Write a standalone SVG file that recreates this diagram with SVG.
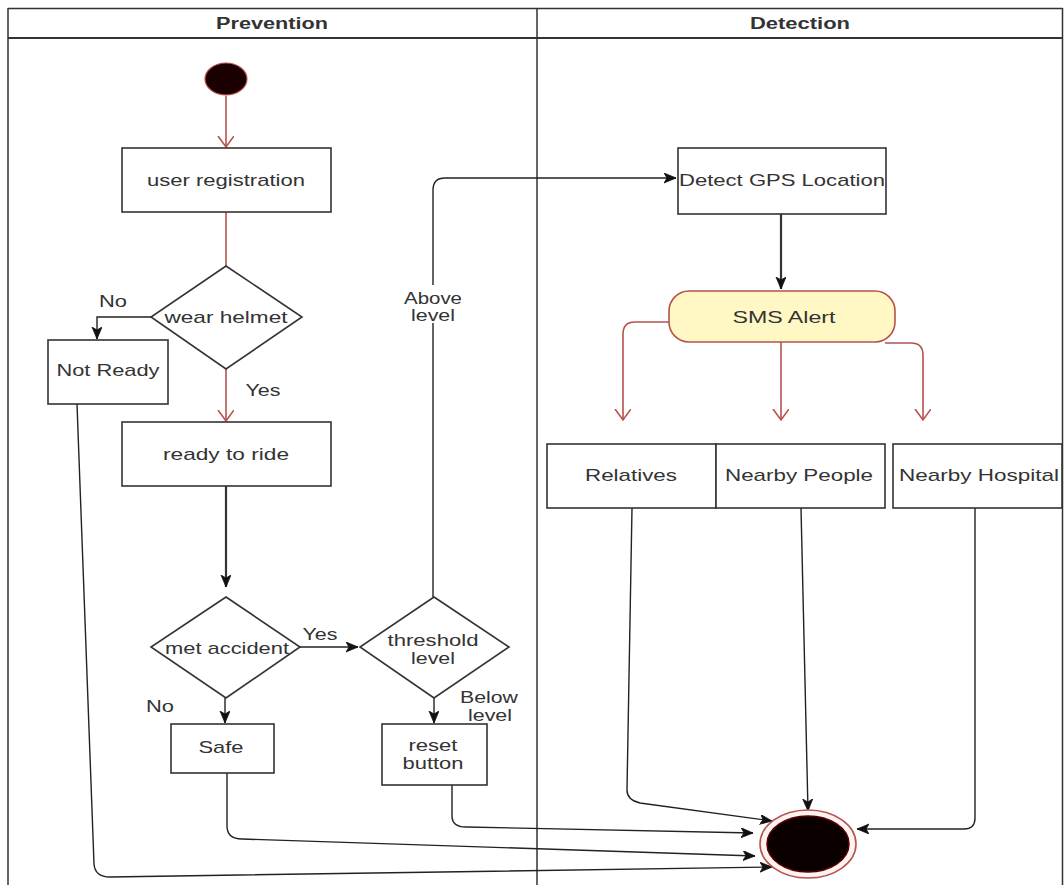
<svg xmlns="http://www.w3.org/2000/svg" width="1064" height="885" viewBox="0 0 1064 885">
<style>
  text { font-family: "Liberation Sans", Arial, sans-serif; font-size: 17px; fill: #333; text-anchor: middle; }
  .hdr { font-weight: bold; font-size: 16px; }
  .box { fill: #fff; stroke: #333; stroke-width: 1.6; }
  .frame { fill: none; stroke: #333; stroke-width: 1.5; }
  .red { fill: none; stroke: #b5524e; stroke-width: 1.6; }
  .blk { fill: none; stroke: #222; stroke-width: 1.4; }
  .thick { fill: none; stroke: #333; stroke-width: 2.2; }
</style>
<defs>
  <marker id="openRed" markerUnits="userSpaceOnUse" markerWidth="14" markerHeight="18" refX="11" refY="8" orient="auto" viewBox="0 0 14 18">
    <path d="M0,0 L11,8 L0,16" fill="none" stroke="#b5524e" stroke-width="1.6"/>
  </marker>
  <marker id="classic" markerUnits="userSpaceOnUse" markerWidth="14" markerHeight="12" refX="12" refY="5" orient="auto" viewBox="0 0 14 12">
    <path d="M0,0 L12,5 L0,10 L3,5 Z" fill="#111" stroke="#111" stroke-width="0.8"/>
  </marker>
</defs>
<rect width="1064" height="885" fill="#fff"/>

<g id="lanes">
  <path class="frame" d="M8,8.5 H1062.5 M8,8 V885 M1062.5,8 V885 M537,8 V885"/>
  <path d="M8,38 H1062.5" stroke="#333" stroke-width="2" fill="none"/>
  <text class="hdr" x="272" y="29" textLength="112" lengthAdjust="spacingAndGlyphs">Prevention</text>
  <text class="hdr" x="800" y="29" textLength="100" lengthAdjust="spacingAndGlyphs">Detection</text>
</g>

<g id="connectors">
  <path class="red" d="M226,96 V147" marker-end="url(#openRed)"/>
  <path class="red" d="M226,212 V266"/>
  <path class="blk" d="M151,317 H97 V339" marker-end="url(#classic)"/>
  <path class="red" d="M226,369 V421" marker-end="url(#openRed)"/>
  <path class="thick" d="M226,486 V587" marker-end="url(#classic)"/>
  <path class="blk" d="M300,647 H358" marker-end="url(#classic)"/>
  <path class="blk" d="M225,698 V723" marker-end="url(#classic)"/>
  <path class="blk" d="M434,698 V723" marker-end="url(#classic)"/>
  <path class="blk" d="M433,597 V190 Q433,178 445,178 H676" marker-end="url(#classic)"/>
  <path class="thick" d="M781,214 V289" marker-end="url(#classic)"/>
  <path class="red" d="M669,322 H635 Q623,322 623,334 V420" marker-end="url(#openRed)"/>
  <path class="red" d="M781,342 V420" marker-end="url(#openRed)"/>
  <path class="red" d="M885,343 H911 Q923,343 923,355 V420" marker-end="url(#openRed)"/>
  <path class="blk" d="M632,508 L627,790 Q627,800 640,803 L772,821" marker-end="url(#classic)"/>
  <path class="blk" d="M801,508 L808,811" marker-end="url(#classic)"/>
  <path class="blk" d="M975,508 V818 Q975,829 964,829 H857" marker-end="url(#classic)"/>
  <path class="blk" d="M452,785 V816 Q452,827 466,827 L753,833" marker-end="url(#classic)"/>
  <path class="blk" d="M227,773 V826 Q227,839 242,839 L755,856" marker-end="url(#classic)"/>
  <path class="blk" d="M77,404 L94,864 Q95,877 110,877 L772,867" marker-end="url(#classic)"/>
</g>

<g id="labels">
  <text x="113" y="307" textLength="28" lengthAdjust="spacingAndGlyphs">No</text>
  <text x="263" y="396" textLength="35" lengthAdjust="spacingAndGlyphs">Yes</text>
  <text x="320" y="640" textLength="35" lengthAdjust="spacingAndGlyphs">Yes</text>
  <text x="160" y="712" textLength="28" lengthAdjust="spacingAndGlyphs">No</text>
  <text x="489" y="703" textLength="58" lengthAdjust="spacingAndGlyphs">Below</text>
  <text x="490" y="721" textLength="44" lengthAdjust="spacingAndGlyphs">level</text>
  <rect x="400" y="285" width="66" height="38" fill="#fff"/>
  <text x="433" y="304" textLength="58" lengthAdjust="spacingAndGlyphs">Above</text>
  <text x="433" y="321" textLength="44" lengthAdjust="spacingAndGlyphs">level</text>
</g>

<g id="start">
  <ellipse cx="226" cy="79" rx="21" ry="16" fill="#1a0000" stroke="#b5524e" stroke-width="1.2"/>
</g>

<g id="user-registration">
  <rect class="box" x="122" y="148" width="209" height="64"/>
  <text x="226" y="186" textLength="158" lengthAdjust="spacingAndGlyphs">user registration</text>
</g>

<g id="wear-helmet">
  <polygon class="box" points="226,266 302,317 226,369 151,317"/>
  <text x="226" y="323" textLength="123" lengthAdjust="spacingAndGlyphs">wear helmet</text>
</g>

<g id="not-ready">
  <rect class="box" x="48" y="340" width="120" height="64"/>
  <text x="108" y="376" textLength="103" lengthAdjust="spacingAndGlyphs">Not Ready</text>
</g>

<g id="ready-to-ride">
  <rect class="box" x="122" y="422" width="209" height="64"/>
  <text x="226" y="460" textLength="126" lengthAdjust="spacingAndGlyphs">ready to ride</text>
</g>

<g id="met-accident">
  <polygon class="box" points="226,597 300,647 226,698 151,647"/>
  <text x="227" y="654" textLength="124" lengthAdjust="spacingAndGlyphs">met accident</text>
</g>

<g id="threshold-level">
  <polygon class="box" points="434,597 509,647 434,698 360,647"/>
  <text x="433" y="646" textLength="91" lengthAdjust="spacingAndGlyphs">threshold</text>
  <text x="433" y="664" textLength="44" lengthAdjust="spacingAndGlyphs">level</text>
</g>

<g id="safe">
  <rect class="box" x="171" y="724" width="103" height="49"/>
  <text x="221" y="753" textLength="45" lengthAdjust="spacingAndGlyphs">Safe</text>
</g>

<g id="reset-button">
  <rect class="box" x="382" y="724" width="105" height="61"/>
  <text x="433" y="751" textLength="49" lengthAdjust="spacingAndGlyphs">reset</text>
  <text x="433" y="769" textLength="61" lengthAdjust="spacingAndGlyphs">button</text>
</g>

<g id="detect-gps">
  <rect class="box" x="678" y="148" width="208" height="66"/>
  <text x="782" y="186" textLength="206" lengthAdjust="spacingAndGlyphs">Detect GPS Location</text>
</g>

<g id="sms-alert">
  <rect x="669" y="291" width="226" height="51" rx="20" ry="20" fill="#fff8c4" stroke="#b5524e" stroke-width="1.6"/>
  <text x="784" y="323" textLength="103" lengthAdjust="spacingAndGlyphs">SMS Alert</text>
</g>

<g id="relatives">
  <rect class="box" x="547" y="444" width="169" height="64"/>
  <text x="631" y="481" textLength="92" lengthAdjust="spacingAndGlyphs">Relatives</text>
</g>

<g id="nearby-people">
  <rect class="box" x="716" y="444" width="169" height="64"/>
  <text x="799" y="481" textLength="148" lengthAdjust="spacingAndGlyphs">Nearby People</text>
</g>

<g id="nearby-hospital">
  <rect class="box" x="893" y="444" width="169" height="64"/>
  <text x="979" y="481" textLength="160" lengthAdjust="spacingAndGlyphs">Nearby Hospital</text>
</g>

<g id="end">
  <ellipse cx="808" cy="844" rx="48" ry="34" fill="#fff2f2" stroke="#b5524e" stroke-width="1.6"/>
  <ellipse cx="808" cy="844" rx="41" ry="28" fill="#0a0000" stroke="#5a0000" stroke-width="1.5"/>
</g>
</svg>
